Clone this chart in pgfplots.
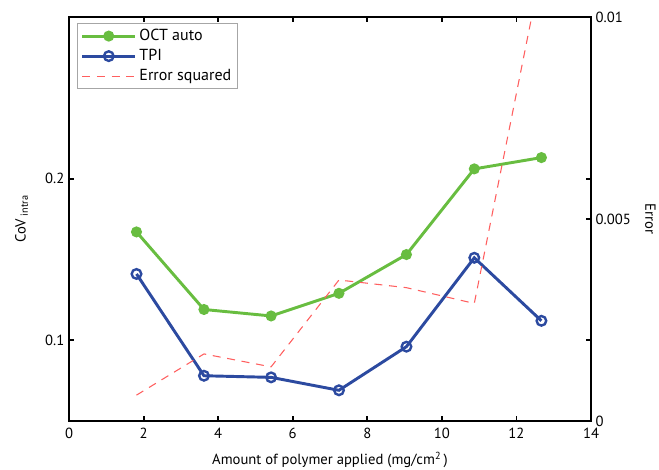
\documentclass[border=0pt]{standalone}
\usepackage{pgfplots}
\pgfplotsset{compat=1.18}
\usepackage{fontspec}
\setmainfont{PT Sans}
\definecolor{octgreen}{RGB}{104,189,64}
\definecolor{tpiblue}{RGB}{44,74,160}
\definecolor{errred}{RGB}{255,95,95}
\begin{document}
\begin{tikzpicture}
\pgfplotsset{
  every axis/.append style={
    width=391.5pt, height=303pt, scale only axis,
    xmin=0, xmax=14,
    font=\fontsize{11}{13}\selectfont,
    tick label style={font=\fontsize{11}{13}\selectfont},
    /pgf/number format/assume math mode=true,
    axis line style={line width=1.6pt},
    major tick length=4pt,
    tick style={line width=1.4pt, black},
  }
}
\begin{axis}[
  name=a,
  ymin=0.05, ymax=0.3,
  xtick={0,2,...,14},
  xticklabels={0,2,4,6,8,10,12,14},
  ytick={0.1,0.2},
  yticklabels={0.1,0.2},
  xtick pos=both, ytick pos=both,
  tick align=inside,
  xticklabel style={yshift=-2pt},
  xlabel={Amount of polymer applied (mg/cm\textsuperscript{2}\,)},
  ylabel={CoV\,\textsubscript{intra}},
  xlabel style={yshift=-3pt},
  ylabel style={yshift=6pt},
]
\addplot[octgreen, line width=2.2pt, mark=*, mark size=3pt, mark options={solid, fill=octgreen, draw=octgreen}]
  coordinates {(1.81,0.167) (3.62,0.119) (5.42,0.115) (7.24,0.129) (9.05,0.153) (10.87,0.206) (12.67,0.213)};
\addplot[tpiblue, line width=2.2pt, mark=o, mark size=3.6pt, mark options={solid, line width=1.8pt}]
  coordinates {(1.81,0.141) (3.62,0.078) (5.42,0.077) (7.24,0.069) (9.05,0.096) (10.87,0.151) (12.67,0.112)};
\end{axis}
\begin{axis}[
  axis x line=none,
  axis y line*=right,
  ymin=0, ymax=0.01,
  ytick={0,0.005,0.01},
  yticklabels={0,0.005,0.01},
  scaled y ticks=false,
  tick align=inside,
  ylabel={Error},
  ylabel style={rotate=180, yshift=4pt},
  legend style={at={(rel axis cs:0,1)}, anchor=north west, xshift=6pt, yshift=-4.5pt,
    draw=gray!70, line width=0.6pt, font=\fontsize{12}{14}\selectfont, inner sep=2.5pt, row sep=1pt,
    legend cell align=left},
  legend image code/.code={\draw[#1] (0cm,0cm) -- (1.4cm,0cm); \draw[#1, only marks] plot coordinates {(0.7cm,0cm)};},
]
\addlegendimage{octgreen, line width=2.2pt, mark=*, mark size=3pt, mark options={solid, fill=octgreen}}
\addlegendentry{OCT auto}
\addlegendimage{tpiblue, line width=2.2pt, mark=o, mark size=3.6pt, mark options={solid, line width=1.8pt}}
\addlegendentry{TPI}
\addplot[errred, line width=0.8pt, dash pattern=on 6pt off 5pt]
  coordinates {(1.81,0.00064) (3.62,0.00166) (5.42,0.00134) (7.24,0.00349) (9.05,0.0033) (10.87,0.00291) (12.67,0.0112)};
\addlegendentry{Error squared}
\end{axis}
\pgfresetboundingbox
\path ([shift={(-51.75pt,-36.75pt)}]a.south west) rectangle ([shift={(51pt,12.75pt)}]a.north east);
\end{tikzpicture}
\end{document}
